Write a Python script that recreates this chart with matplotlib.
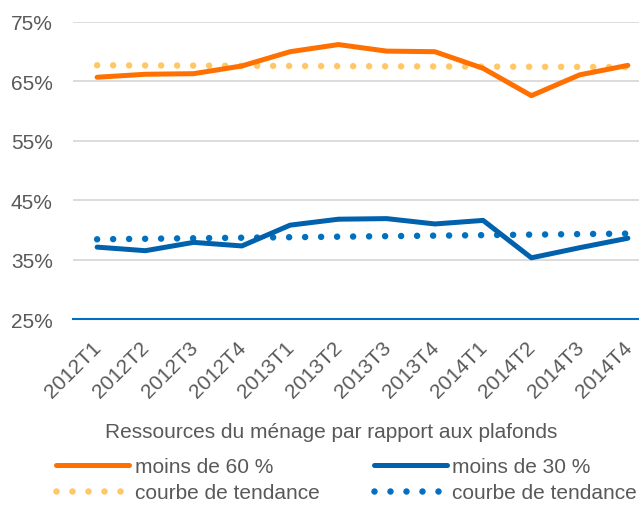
import numpy as np
import matplotlib
matplotlib.use("Agg")
import matplotlib.pyplot as plt
from matplotlib.lines import Line2D
import matplotlib.transforms as mtransforms

categories = ["2012T1", "2012T2", "2012T3", "2012T4",
              "2013T1", "2013T2", "2013T3", "2013T4",
              "2014T1", "2014T2", "2014T3", "2014T4"]
moins_60 = [65.7, 66.2, 66.3, 67.6, 70.0, 71.2, 70.1, 70.0, 67.2, 62.6, 66.1, 67.7]
moins_30 = [37.1, 36.5, 37.9, 37.3, 40.8, 41.8, 41.9, 41.0, 41.6, 35.3, 37.0, 38.6]
yticks = [25, 35, 45, 55, 65, 75]
legend_title = "Ressources du ménage par rapport aux plafonds"
labels = ["moins de 60 %", "moins de 30 %", "courbe de tendance", "courbe de tendance"]

ORANGE = "#FF7000"
ORANGE_T = "#FFC766"
BLUE = "#0062AC"
BLUE_T = "#0070C0"
GRAY = "#595959"

plt.rcParams['font.family'] = ['Liberation Sans', 'DejaVu Sans']

FS = 15
W, H, DPI = 639, 506, 100
fig = plt.figure(figsize=(W / DPI, H / DPI), dpi=DPI)
left, right = 73 / W, 652 / W
top, bottom = 1 - 23 / H, 1 - 320 / H
ax = fig.add_axes([left, bottom, right - left, top - bottom])

x = np.arange(len(categories))
lw = 3.6
dot_lw = 4.7
dots = (0, (0.001, 2.45))

tr60 = np.polyval(np.polyfit(x, moins_60, 1), x)
tr30 = np.polyval(np.polyfit(x, moins_30, 1), x)

ax.plot(x, tr60, color=ORANGE_T, lw=dot_lw, linestyle=dots, dash_capstyle='round', zorder=3)
ax.plot(x, tr30, color=BLUE_T, lw=dot_lw, linestyle=dots, dash_capstyle='round', zorder=3)
ax.plot(x, moins_60, color=ORANGE, lw=lw, solid_capstyle='round', solid_joinstyle='round', zorder=4)
ax.plot(x, moins_30, color=BLUE, lw=lw, solid_capstyle='round', solid_joinstyle='round', zorder=4)

ax.set_xlim(-0.5, len(categories) - 0.5)
ax.set_ylim(25, 75)
ax.set_yticks(yticks)
ax.set_yticklabels([f"{v}%" for v in yticks])
ax.grid(axis='y', color='#D9D9D9', lw=1.3, zorder=0)
ax.set_axisbelow(True)
for s in ['top', 'right', 'left']:
    ax.spines[s].set_visible(False)
ax.spines['bottom'].set_color('#0070C0')
ax.spines['bottom'].set_linewidth(1.5)
ax.spines['bottom'].set_zorder(5)

ax.set_xticks(x)
ax.set_xticklabels(categories, rotation=45, ha='right', va='top', rotation_mode='anchor')
ax.tick_params(axis='x', length=0, pad=13, labelsize=FS, labelcolor=GRAY)
ax.tick_params(axis='y', length=0, pad=14.5, labelsize=FS, labelcolor=GRAY)
offset = mtransforms.ScaledTranslation(-4 / 72, 0, fig.dpi_scale_trans)
for lab in ax.get_xticklabels():
    lab.set_transform(lab.get_transform() + offset)

fig.text(331 / W, 1 - 433 / H, legend_title, ha='center', va='center',
         fontsize=FS, color=GRAY)

handles = [
    Line2D([], [], color=ORANGE, lw=lw, solid_capstyle='round'),
    Line2D([], [], color=BLUE, lw=lw, solid_capstyle='round'),
    Line2D([], [], color=ORANGE_T, lw=dot_lw, linestyle=dots, dash_capstyle='round'),
    Line2D([], [], color=BLUE_T, lw=dot_lw, linestyle=dots, dash_capstyle='round'),
]
h_order = [handles[0], handles[2], handles[1], handles[3]]
l_order = [labels[0], labels[2], labels[1], labels[3]]
leg = fig.legend(h_order, l_order, ncol=2, loc='upper left',
                 bbox_to_anchor=(56 / W, 1 - 458 / H), frameon=False,
                 fontsize=FS, handlelength=3.5, handletextpad=0.28,
                 columnspacing=2.6, labelspacing=0.36,
                 borderaxespad=0.0, borderpad=0.0)
for t in leg.get_texts():
    t.set_color(GRAY)

fig.savefig("out.png", dpi=DPI)
